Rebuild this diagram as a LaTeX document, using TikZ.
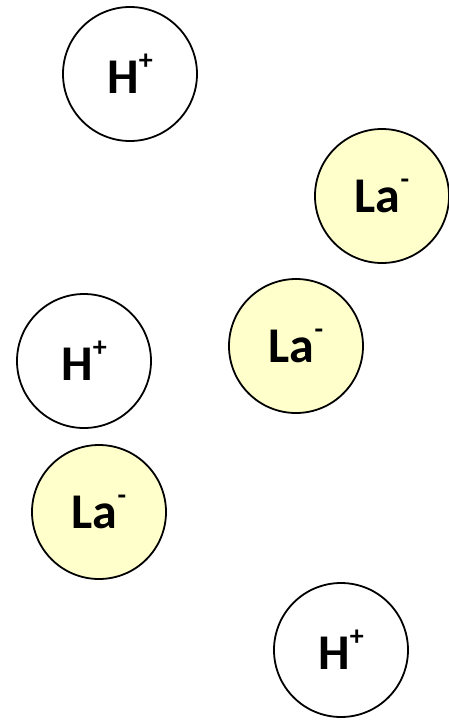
\documentclass[tikz,border=0pt]{standalone}
\usepackage{fontspec}
\setmainfont{Carlito}
\definecolor{anionfill}{HTML}{FFFFCC}
\newcommand\ionsup[1]{\raisebox{0.48em}{\fontsize{28}{28}\selectfont #1}}
\begin{document}
\begin{tikzpicture}[x=1pt,y=-1pt,
  ion/.style={circle,draw=black,line width=1.8pt,minimum size=134pt,inner sep=0pt,
    font=\fontsize{50}{50}\selectfont\bfseries},
  cation/.style={ion,fill=white},
  anion/.style={ion,fill=anionfill}]
\useasboundingbox (0,0) rectangle (448,721);
\node[cation] (h1) at (130,74)  {H\ionsup{+}};
\node[anion]  (a1) at (382,196) {La\ionsup{-}};
\node[anion]  (a2) at (296,346) {La\ionsup{-}};
\node[cation] (h2) at (84,361)  {H\ionsup{+}};
\node[anion]  (a3) at (99,512)  {La\ionsup{-}};
\node[cation] (h3) at (341,650) {H\ionsup{+}};
\end{tikzpicture}
\end{document}
